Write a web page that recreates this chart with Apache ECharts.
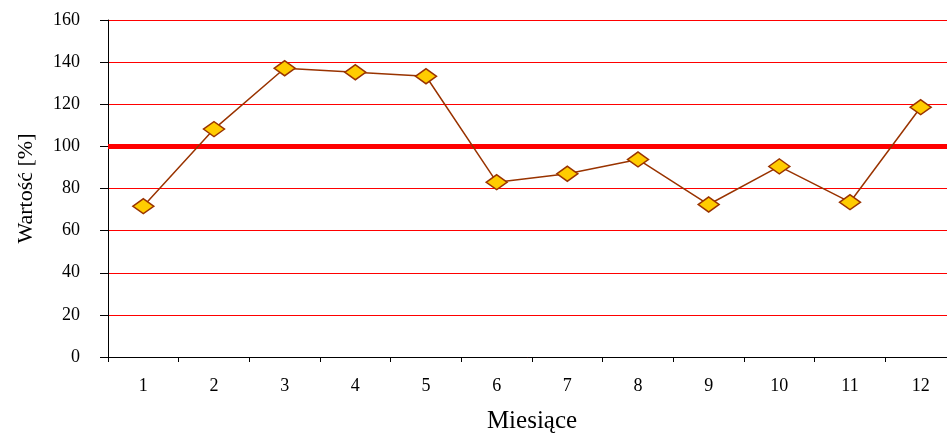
<!DOCTYPE html>
<html>
<head>
<meta charset="utf-8">
<script src="https://cdn.jsdelivr.net/npm/echarts@6/dist/echarts.min.js"></script>
<style>
  html, body { margin: 0; padding: 0; background: #fff; }
  #chart { width: 947px; height: 433px; }
</style>
</head>
<body>
<div id="chart"></div>
<script>
// Monthly values (%) and the 100% reference level
const months = ['1', '2', '3', '4', '5', '6', '7', '8', '9', '10', '11', '12'];
const values = [71.6, 108.2, 137.1, 135.2, 133.3, 83.0, 87.0, 93.8, 72.4, 90.5, 73.5, 118.6];
const targetLevel = 100;
const yTicks = { min: 0, max: 160, interval: 20 };

const serif = '"Liberation Serif", "Times New Roman", serif';

const chart = echarts.init(document.getElementById('chart'), null, { renderer: 'canvas' });

chart.setOption({
  animation: false,
  backgroundColor: '#ffffff',
  grid: {
    left: 108, top: 20, right: -9, bottom: 76,
    containLabel: false,
    outerBoundsMode: 'none'
  },
  xAxis: {
    type: 'category',
    data: months,
    boundaryGap: true,
    name: 'Miesiące',
    nameLocation: 'middle',
    nameGap: 52,
    nameTextStyle: { fontFamily: serif, fontSize: 25, color: '#000' },
    axisLine: { lineStyle: { color: '#000', width: 1 } },
    axisTick: { show: true, interval: 0, length: 5, lineStyle: { color: '#000' } },
    axisLabel: { fontFamily: serif, fontSize: 18, color: '#000', margin: 20, interval: 0 },
    splitLine: { show: false }
  },
  yAxis: {
    type: 'value',
    min: yTicks.min,
    max: yTicks.max,
    interval: yTicks.interval,
    name: 'Wartość [%]',
    nameLocation: 'middle',
    nameRotate: 90,
    nameGap: 71,
    nameTextStyle: { fontFamily: serif, fontSize: 22, color: '#000' },
    axisLine: { show: true, lineStyle: { color: '#000', width: 1 } },
    axisTick: { show: true, length: 8, lineStyle: { color: '#000' } },
    axisLabel: { fontFamily: serif, fontSize: 18, color: '#000', margin: 28 },
    splitLine: { show: true, lineStyle: { color: '#ff0000', width: 1 } }
  },
  series: [{
    type: 'line',
    data: values,
    symbol: 'diamond',
    symbolSize: [21, 15],
    lineStyle: { color: '#993300', width: 1.5 },
    itemStyle: { color: '#FFCC00', borderColor: '#993300', borderWidth: 1.5 },
    z: 5,
    markLine: {
      silent: true,
      symbol: ['none', 'none'],
      label: { show: false },
      lineStyle: { color: '#ff0000', width: 5, type: 'solid' },
      data: [{ yAxis: targetLevel }],
      z: 3
    }
  }]
});
</script>
</body>
</html>
